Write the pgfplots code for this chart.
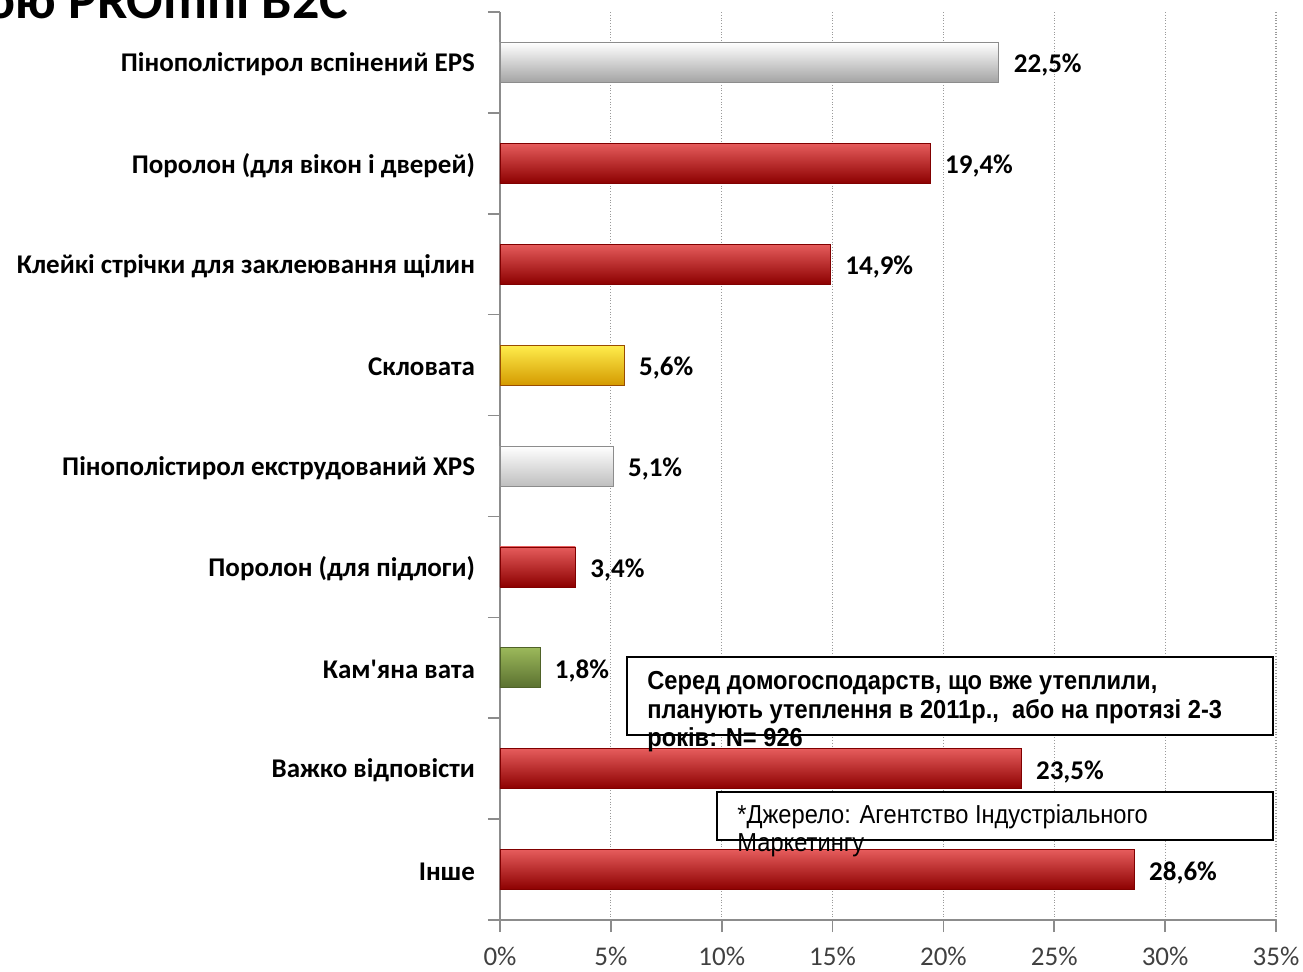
\documentclass[border=0pt]{standalone}
\usepackage{fontspec}
\setmainfont{Carlito}[Ligatures=TeXOff]
\newfontfamily\narrowfont[FakeStretch=0.91]{Liberation Sans}
\usepackage{pgfplots}
\pgfplotsset{compat=1.18}
\definecolor{axisgray}{HTML}{8C8C8C}
\definecolor{gridgray}{HTML}{9A9A9A}
\definecolor{ticktext}{HTML}{404040}

\begin{document}
\begin{tikzpicture}[font=\fontsize{13.5}{16}\selectfont]
\useasboundingbox (0,0) rectangle (651.5pt,-486pt);
\clip (0,0) rectangle (651.5pt,-486pt);
\begin{axis}[
  at={(250pt,-460pt)}, anchor=south west,
  scale only axis, width=388pt, height=454pt,
  xmin=0, xmax=35, ymin=0.5, ymax=9.5, y dir=reverse,
  axis x line*=bottom, axis y line*=left,
  axis line style={draw=axisgray, line width=0.8pt},
  xtick={0,5,...,35},
  xticklabel={\pgfmathprintnumber{\tick}\%},
  /pgf/number format/assume math mode=true,
  ytick={1,...,9},
  yticklabels={Пінополістирол вспінений EPS, Поролон (для вікон і дверей),
    Клейкі стрічки для заклеювання щілин, Скловата, Пінополістирол екструдований XPS,
    Поролон (для підлоги), Кам'яна вата, Важко відповісти, Інше},
  minor ytick={0.5,1.5,...,9.5},
  tick align=outside,
  major tick length=6pt, minor tick length=6pt,
  tick style={draw=axisgray, line width=0.8pt},
  major y tick style={draw=none},
  xmajorgrids, major grid style={densely dotted, draw=gridgray, line width=0.6pt},
  xticklabel style={text=ticktext, yshift=-4pt},
  yticklabel style={font=\fontsize{13.5}{16}\selectfont\bfseries, xshift=-3pt, yshift=-1pt},
  nodes near coords, point meta=explicit symbolic,
  nodes near coords style={font=\fontsize{13.5}{16}\selectfont\bfseries, anchor=west, xshift=4pt, yshift=-1.5pt, text=black},
]
\addplot[xbar, bar shift=0pt, bar width=20pt, draw=axisgray, top color=white, middle color=black!19, bottom color=black!36]
  coordinates {(22.5,1) [22,5\%]};
\addplot[xbar, bar shift=0pt, bar width=20pt, draw=red!50!black, top color=red!60!white!90!black, middle color=red!75!black!90!white, bottom color=red!55!black]
  coordinates {(19.4,2) [19,4\%]};
\addplot[xbar, bar shift=0pt, bar width=20pt, draw=red!50!black, top color=red!60!white!90!black, middle color=red!75!black!90!white, bottom color=red!55!black]
  coordinates {(14.9,3) [14,9\%]};
\addplot[xbar, bar shift=0pt, bar width=20pt, draw=orange!60!black, top color=yellow!80!orange!70!white, middle color={rgb,255:red,255;green,192;blue,0}, bottom color={rgb,255:red,212;green,154;blue,0}]
  coordinates {(5.6,4) [5,6\%]};
\addplot[xbar, bar shift=0pt, bar width=20pt, draw=axisgray, top color=white, middle color=black!9, bottom color=black!25]
  coordinates {(5.1,5) [5,1\%]};
\addplot[xbar, bar shift=0pt, bar width=20pt, draw=red!50!black, top color=red!60!white!90!black, middle color=red!75!black!90!white, bottom color=red!55!black]
  coordinates {(3.4,6) [3,4\%]};
\addplot[xbar, bar shift=0pt, bar width=20pt, draw={rgb,255:red,79;green,98;blue,40}, top color={rgb,255:red,155;green,184;blue,90}, middle color={rgb,255:red,119;green,147;blue,60}, bottom color={rgb,255:red,90;green,112;blue,48}]
  coordinates {(1.8,7) [1,8\%]};
\addplot[xbar, bar shift=0pt, bar width=20pt, draw=red!50!black, top color=red!60!white!90!black, middle color=red!75!black!90!white, bottom color=red!55!black]
  coordinates {(23.5,8) [23,5\%]};
\addplot[xbar, bar shift=0pt, bar width=20pt, draw=red!50!black, top color=red!60!white!90!black, middle color=red!75!black!90!white, bottom color=red!55!black]
  coordinates {(28.6,9) [28,6\%]};
\end{axis}
\node[anchor=base west, inner sep=0pt, font=\fontsize{27}{32}\selectfont\bfseries] at (-7pt,-9.5pt) {ою PROmni B2C};
\draw[line width=1pt, fill=white] (313.5pt,-328.5pt) rectangle (636.5pt,-367.5pt);
\begin{scope}[every node/.style={anchor=base west, inner sep=0pt, font=\narrowfont\fontsize{13}{15}\selectfont}]
\node[font=\narrowfont\fontsize{13}{15}\selectfont\bfseries] at (323.5pt,-345pt) {Серед домогосподарств, що вже утеплили,};
\node[font=\narrowfont\fontsize{13}{15}\selectfont\bfseries] at (323.5pt,-359.5pt) {планують утеплення в 2011р.,\ \ або на протязі 2-3};
\node[font=\narrowfont\fontsize{13}{15}\selectfont\bfseries] at (323.5pt,-373.5pt) {років: N= 926};
\end{scope}
\draw[line width=1pt, fill=white] (358.5pt,-396pt) rectangle (636.5pt,-420pt);
\begin{scope}[every node/.style={anchor=base west, inner sep=0pt, font=\narrowfont\fontsize{13}{15}\selectfont}]
\node at (368.5pt,-412pt) {*Джерело: Агентство Індустріального};
\node at (368.5pt,-426pt) {Маркетингу};
\end{scope}
\end{tikzpicture}
\end{document}
